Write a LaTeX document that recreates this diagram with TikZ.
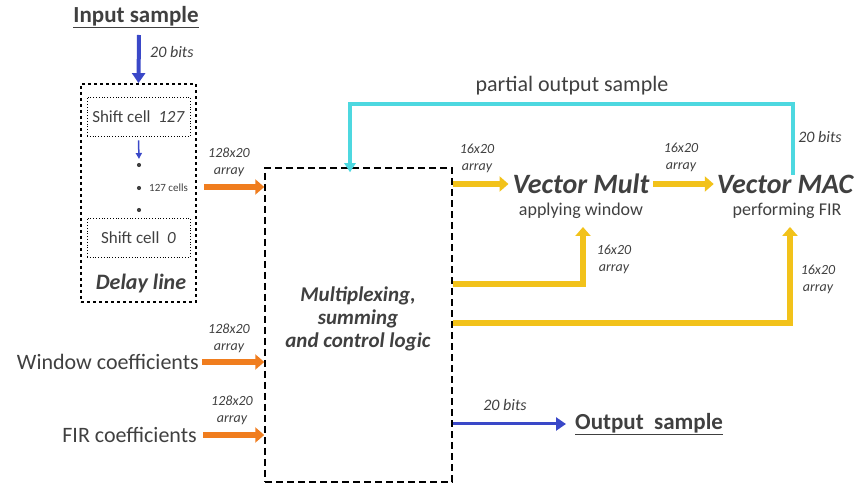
\documentclass[tikz,border=0pt]{standalone}
\usepackage{fontspec}
\setmainfont{Carlito}
\usetikzlibrary{arrows.meta}

\definecolor{txtgray}{HTML}{404040}
\definecolor{arrblue}{HTML}{3A48C8}
\definecolor{arrorange}{HTML}{F07D1E}
\definecolor{arrgold}{HTML}{F2C21A}
\definecolor{arrcyan}{HTML}{4DD8E0}

\tikzset{
  every node/.style={text=txtgray, inner sep=0pt},
  title/.style={font=\fontsize{23}{25}\selectfont\bfseries},
  plain/.style={font=\fontsize{22}{24}\selectfont},
  lbl/.style={font=\fontsize{14}{17}\selectfont\itshape, align=center},
  bigblock/.style={font=\fontsize{28}{30}\selectfont\bfseries\itshape},
  cellbox/.style={draw=black, dotted, thick, minimum width=103pt, minimum height=39pt, font=\fontsize{17}{19}\selectfont},
  bluearr/.style={draw=arrblue, line width=4pt, -{Triangle[length=10pt,width=13pt]}},
  orangearr/.style={draw=arrorange, line width=6pt, -{Triangle[length=9pt,width=15pt]}},
  goldarr/.style={draw=arrgold, line width=6pt, -{Triangle[length=9pt,width=15pt]}},
  cyanarr/.style={draw=arrcyan, line width=3.5pt, -{Triangle[length=9pt,width=11pt]}}
}

\begin{document}
\begin{tikzpicture}[x=1pt,y=-1pt]
    \useasboundingbox (0,0) rectangle (855,486);
    % delay line part
    \node[title] (inp) at (136,17) {\underline{Input sample}};
    \node[draw=black, line width=1.8pt, dash pattern=on 3pt off 3pt, minimum width=115pt, minimum height=218pt] (delay) at (138.5,193) {};
    \node[cellbox] (cell127) at (138.5,116.5) {Shift cell\ \ \textit{127}};
    \node[cellbox] (cell0) at (138.5,237.5) {Shift cell\ \ \textit{0}};
    \node[title, font=\fontsize{22}{24}\selectfont\bfseries\itshape] (delaylbl) at (141,284) {Delay line};
    \coordinate (inpfoot) at (139,35);
    \draw[bluearr] (inpfoot) -- (delay.north);
    \node[lbl, font=\fontsize{16}{18}\selectfont\itshape, anchor=west] (inbits) at (150,52) {20 bits};
    \coordinate (shiftend) at (139,159);
    \draw[draw=arrblue, line width=1.5pt, -{Triangle[length=6pt,width=6pt]}] (cell127.south) ++(0,4) -- (shiftend);
    \foreach \yy in {165,188,210}
        \fill[txtgray] (139,\yy) circle (2.1pt);
    \node[font=\fontsize{11}{13}\selectfont, anchor=west] (ncells) at (149,188) {127 cells};

    % main block
    \node[draw=black, line width=1.5pt, dash pattern=on 7pt off 4pt, minimum width=187pt, minimum height=314pt] (main) at (358.5,325) {};
    \node[align=center, font=\fontsize{21}{23}\selectfont\bfseries\itshape] (mainlbl) at (358,319) {Multiplexing,\\summing\\and control logic};

    % inputs on the left
    \node[plain, anchor=east] (wincoef) at (199,362) {Window coefficients};
    \node[plain, anchor=east] (fircoef) at (197,435) {FIR coefficients};
    \draw[orangearr, shorten <=7pt] (delay.east |- 0,187) -- (main.west |- 0,187);
    \draw[orangearr, shorten <=3pt] (wincoef.east) -- (main.west |- wincoef.east);
    \draw[orangearr, shorten <=6pt] (fircoef.east) -- (main.west |- fircoef.east);
    \node[lbl] (arr1) at (229,162) {128x20\\array};
    \node[lbl] (arr2) at (229,338) {128x20\\array};
    \node[lbl] (arr3) at (232,410) {128x20\\array};

    % vector units
    \node[bigblock] (vmult) at (581,184) {Vector Mult};
    \node[font=\fontsize{18}{20}\selectfont] (vmultsub) at (581,211) {applying window};
    \node[bigblock] (vmac) at (785,184) {Vector MAC};
    \node[font=\fontsize{18}{20}\selectfont] (vmacsub) at (787,211) {performing FIR};
    \draw[goldarr] (main.east |- vmult.west) -- ([xshift=-4pt]vmult.west);
    \draw[goldarr, shorten <=4pt, shorten >=3pt] (vmult.east) -- (vmac.west);
    \draw[goldarr, shorten >=8pt] (main.east |- 0,284) -| ([xshift=2pt]vmultsub.south);
    \draw[goldarr, shorten >=8pt] (main.east |- 0,323) -| ([xshift=3pt]vmacsub.south);
    \node[lbl] (arr4) at (477,158) {16x20\\array};
    \node[lbl] (arr5) at (681,157) {16x20\\array};
    \node[lbl] (arr6) at (614,259) {16x20\\array};
    \node[lbl] (arr7) at (818,279) {16x20\\array};

    % feedback
    \coordinate (fbk) at (350,104);
    \draw[cyanarr] ([xshift=8pt]vmac.north) |- (fbk) -- ([yshift=-5pt]fbk |- main.north);
    \node[plain] (partial) at (572,86) {partial output sample};
    \node[lbl, font=\fontsize{16}{18}\selectfont\itshape] (fbbits) at (820,137) {20 bits};

    % output
    \node[title, anchor=west] (outp) at (575,424) {\underline{Output\ \ sample}};
    \draw[bluearr, line width=3pt, shorten >=9pt] (main.east |- outp.west) -- (outp.west);
    \node[lbl, font=\fontsize{16}{18}\selectfont\itshape] (outbits) at (505,405) {20 bits};
\end{tikzpicture}
\end{document}
